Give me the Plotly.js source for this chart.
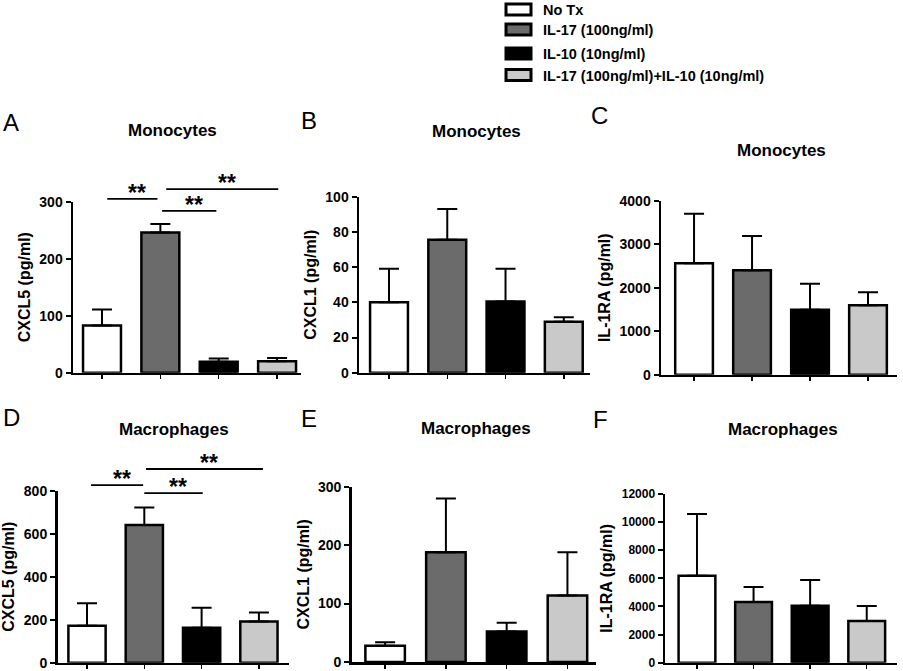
<!DOCTYPE html>
<html>
<head>
<meta charset="utf-8">
<script src="https://cdn.plot.ly/plotly-3.0.1.min.js"></script>
<style>html,body{margin:0;padding:0;background:#fff;}#chart{width:903px;height:671px;}</style>
</head>
<body>
<div id="chart"></div>
<script>
// ---------- DATA ----------
const groups = ['No Tx', 'IL-17 (100ng/ml)', 'IL-10 (10ng/ml)', 'IL-17 (100ng/ml)+IL-10 (10ng/ml)'];
const groupPos = [0, 1, 2, 3];   // x position of each group on the axis
const groupColors = ['#ffffff', '#6b6b6b', '#000000', '#c9c9c9'];

const panelLetters = ['A', 'B', 'C', 'D', 'E', 'F'];
const panelTitles = ['Monocytes', 'Monocytes', 'Monocytes', 'Macrophages', 'Macrophages', 'Macrophages'];
const yTitles = ['CXCL5 (pg/ml)', 'CXCL1 (pg/ml)', 'IL-1RA (pg/ml)', 'CXCL5 (pg/ml)', 'CXCL1 (pg/ml)', 'IL-1RA (pg/ml)'];
const yMax = [300, 100, 4000, 800, 300, 12000];
const yDtick = [100, 20, 1000, 200, 100, 2000];

// Means and upper error (SEM) per group
const monoCXCL5 = [83, 246, 19, 20];
const monoCXCL5Err = [28, 15, 6, 6];
const monoCXCL1 = [40, 75.5, 40.5, 29];
const monoCXCL1Err = [19, 17.5, 18.5, 2.5];
const monoIL1RA = [2560, 2400, 1495, 1595];
const monoIL1RAErr = [1140, 790, 595, 300];
const macroCXCL5 = [172, 640, 163, 192];
const macroCXCL5Err = [104, 82, 93, 42];
const macroCXCL1 = [28, 188, 52, 114];
const macroCXCL1Err = [6, 92, 15, 74];
const macroIL1RA = [6190, 4316, 4055, 2964];
const macroIL1RAErr = [4387, 1067, 1826, 1067];

// Significance brackets: [x start, x end, y level] in data units
const sigA = [[0.09, 0.95, 305], [1.03, 1.96, 284], [1.10, 3.02, 322]];
const sigD = [[0.07, 0.98, 826], [1.00, 2.02, 789], [1.03, 3.07, 901]];
const sigLabel = '**';

// ---------- LAYOUT GEOMETRY (pixels) ----------
const W = 903, H = 671;
const px = p => p / W;
const py = p => 1 - p / H;
// [left px, right px, bottom px, top px, x-range start, x-range end]
const geom = [
  [73, 301, 372.7, 201.7, -0.497, 3.41],
  [359, 590, 372.7, 196.7, -0.515, 3.45],
  [661, 897, 374.7, 200.7, -0.57, 3.50],
  [57.5, 289, 662.7, 490.7, -0.515, 3.525],
  [351.7, 596, 662, 486.7, -0.55, 3.47],
  [665, 897, 662.7, 494, -0.565, 3.535]
];
const tickSize = [14, 14, 14, 14, 14, 12];
const titlePos = [[172, 130], [476, 131], [781, 150], [174, 429], [476, 428], [783, 429]];
const letterPos = [[1, 122.5], [299, 121], [589, 115], [1, 417.5], [299, 418.5], [591, 419.5]];

const means = [monoCXCL5, monoCXCL1, monoIL1RA, macroCXCL5, macroCXCL1, macroIL1RA];
const errs = [monoCXCL5Err, monoCXCL1Err, monoIL1RAErr, macroCXCL5Err, macroCXCL1Err, macroIL1RAErr];

const FONT = 'Liberation Sans, Arial, Helvetica, sans-serif';
const traces = [];
const layout = {
  width: W, height: H,
  margin: {l: 0, r: 0, t: 0, b: 0},
  paper_bgcolor: '#fff', plot_bgcolor: '#fff',
  showlegend: false,
  font: {family: FONT, color: '#000'},
  annotations: [], shapes: []
};

for (let i = 0; i < 6; i++) {
  const n = i + 1;
  const xa = 'x' + (n === 1 ? '' : n), ya = 'y' + (n === 1 ? '' : n);
  const xk = 'xaxis' + (n === 1 ? '' : n), yk = 'yaxis' + (n === 1 ? '' : n);
  const g = geom[i];
  traces.push({
    type: 'bar', x: groupPos, y: means[i], xaxis: xa, yaxis: ya,
    width: 0.65, text: groups, hoverinfo: 'text+y', textposition: 'none',
    marker: {color: groupColors, line: {color: '#000', width: 2.5}},
    error_y: {type: 'data', symmetric: false, array: errs[i], arrayminus: [0, 0, 0, 0],
              color: '#000', thickness: 2, width: 10},
    cliponaxis: false
  });
  layout[xk] = {
    domain: [px(g[0]), px(g[1])], anchor: ya, type: 'linear',
    range: [g[4], g[5]], tickmode: 'array', tickvals: groupPos,
    showline: true, linecolor: '#000', linewidth: 2.5,
    ticks: 'outside', ticklen: 4, tickwidth: 1.5, tickcolor: '#000',
    showticklabels: false, showgrid: false, zeroline: false, fixedrange: true
  };
  layout[yk] = {
    domain: [py(g[2]), py(g[3])], anchor: xa,
    range: [0, yMax[i]], dtick: yDtick[i], tick0: 0, tickformat: 'd',
    showline: true, linecolor: '#000', linewidth: 2.5,
    ticks: 'outside', ticklen: 5, tickwidth: 2, tickcolor: '#000',
    tickfont: {family: FONT, size: tickSize[i], weight: 'bold', color: '#000'},
    showgrid: false, zeroline: false, fixedrange: true,
    title: {text: yTitles[i], font: {family: FONT, size: 16, weight: 'bold', color: '#000'}, standoff: 5}
  };
  layout.annotations.push({
    xref: 'paper', yref: 'paper', x: px(titlePos[i][0]), y: py(titlePos[i][1]),
    xanchor: 'center', yanchor: 'middle', showarrow: false,
    text: panelTitles[i], font: {family: FONT, size: 17, weight: 'bold', color: '#000'}
  });
  layout.annotations.push({
    xref: 'paper', yref: 'paper', x: px(letterPos[i][0]), y: py(letterPos[i][1]),
    xanchor: 'left', yanchor: 'middle', showarrow: false,
    text: panelLetters[i], font: {family: FONT, size: 24, color: '#000'}
  });
}

// significance brackets (drawn above the axis range, so placed in axis-domain units)
function addSig(list, panel) {
  const n = panel + 1;
  const xa = 'x' + (n === 1 ? '' : n), ya = 'y' + (n === 1 ? '' : n);
  const g = geom[panel];
  const xd = v => (v - g[4]) / (g[5] - g[4]);
  const yd = v => v / yMax[panel];
  list.forEach(s => {
    layout.shapes.push({
      type: 'line', xref: xa + ' domain', yref: ya + ' domain',
      x0: xd(s[0]), x1: xd(s[1]), y0: yd(s[2]), y1: yd(s[2]),
      line: {color: '#000', width: 1.8}
    });
    layout.annotations.push({
      xref: xa + ' domain', yref: ya + ' domain', x: xd((s[0] + s[1]) / 2 + 0.08), y: yd(s[2]),
      xanchor: 'center', yanchor: 'bottom', yshift: -9, showarrow: false,
      text: sigLabel, font: {family: FONT, size: 23, weight: 'bold', color: '#000'}
    });
  });
}
addSig(sigA, 0);
addSig(sigD, 3);

// legend (custom)
const legendY = [9.5, 29.5, 53.5, 75];
for (let k = 0; k < groups.length; k++) {
  const yc = legendY[k];
  layout.shapes.push({
    type: 'rect', xref: 'paper', yref: 'paper',
    x0: px(506), x1: px(531), y0: py(yc + 5.5), y1: py(yc - 5.5),
    fillcolor: groupColors[k], line: {color: '#000', width: 3}
  });
  layout.annotations.push({
    xref: 'paper', yref: 'paper', x: px(541), y: py(yc + 0.5),
    xanchor: 'left', yanchor: 'middle', showarrow: false,
    text: groups[k], font: {family: FONT, size: 14.5, weight: 'bold', color: '#000'}
  });
}

Plotly.newPlot('chart', traces, layout, {displayModeBar: false, staticPlot: true});
</script>
</body>
</html>
